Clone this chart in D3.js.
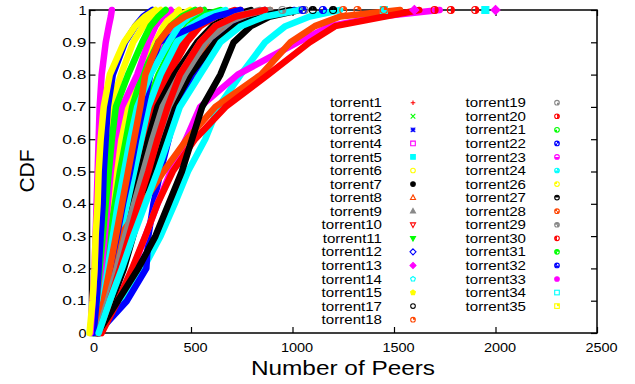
<!DOCTYPE html>
<html>
<head>
<meta charset="utf-8">
<script src="https://cdn.jsdelivr.net/npm/d3@7"></script>
<style>
  body { margin: 0; background: #fff; }
  svg text { font-family: "Liberation Sans", Arial, Helvetica, sans-serif; fill: #000; }
</style>
</head>
<body>
<svg id="chart" width="635" height="384"></svg>
<script>
// ---- data ----
var torrentNames = ["torrent1","torrent2","torrent3","torrent4","torrent5","torrent6","torrent7",
  "torrent8","torrent9","torrent10","torrent11","torrent12","torrent13","torrent14","torrent15",
  "torrent17","torrent18","torrent19","torrent20","torrent21","torrent22","torrent23","torrent24",
  "torrent26","torrent27","torrent28","torrent29","torrent30","torrent31","torrent32","torrent33",
  "torrent34","torrent35"];

// CDF levels at which the number of peers was read
var cdfLevels = [0, 0.1, 0.2, 0.3, 0.4, 0.5, 0.6, 0.7, 0.8, 0.9, 0.95, 0.98, 1];

// number of peers at each level, one row per torrent (same order as torrentNames)
var peerQuantiles = [
  [35,85,125,160,200,240,280,315,390,480,545,620,715],
  [30,60,90,120,145,175,205,240,290,360,420,495,565],
  [50,100,140,185,225,265,305,365,470,560,645,740,865],
  [30,60,85,110,135,160,190,220,280,350,405,470,545],
  [25,160,265,350,420,485,570,635,745,865,965,1085,1235],
  [25,55,80,105,130,155,185,215,265,330,380,435,495],
  [40,85,130,170,210,250,290,335,420,530,605,685,795],
  [45,105,155,200,250,300,350,410,495,595,670,770,890],
  [50,110,155,200,240,300,350,410,535,610,695,795,890],
  [30,70,105,140,175,210,250,290,365,455,535,620,745],
  [35,70,105,135,170,205,240,280,340,420,485,545,645],
  [40,185,280,290,315,350,390,430,505,620,720,850,1010],
  [40,135,215,275,335,400,475,545,730,1025,1185,1430,1725],
  [40,80,115,150,185,220,255,290,350,430,495,570,670],
  [10,45,70,90,110,130,150,180,250,325,365,400,440],
  [50,110,170,215,260,310,360,410,495,620,720,840,990],
  [35,80,115,150,260,365,480,620,845,990,1110,1235,1530],
  [45,100,150,190,235,285,335,390,470,570,645,740,865],
  [60,140,210,275,335,410,520,670,880,1085,1210,1455,1625],
  [20,50,75,100,125,150,180,210,260,340,400,455,520],
  [30,70,100,135,165,200,230,265,300,340,520,620,745],
  [15,45,60,75,90,105,125,160,235,290,325,360,400],
  [30,65,90,115,140,170,200,235,300,390,440,490,545],
  [5,25,40,50,60,70,85,105,155,215,265,310,350],
  [40,140,240,325,390,455,505,555,645,710,795,890,1035],
  [35,70,100,130,160,190,220,250,275,340,400,470,545],
  [40,90,135,175,220,265,310,360,445,545,620,720,840],
  [45,100,150,195,240,290,335,385,445,545,620,720,865],
  [15,35,50,65,80,95,110,130,190,260,300,340,375],
  [20,35,45,55,65,70,80,90,115,175,225,265,310],
  [5,15,25,30,35,40,45,50,60,80,95,105,110],
  [45,100,160,215,275,335,390,445,545,645,745,865,1035],
  [0,15,25,30,40,45,55,70,100,170,225,275,325]
];

// sparse single samples along the top (CDF ~ 1)
var tailSeries = ["torrent5","torrent13","torrent18","torrent19","torrent20","torrent22","torrent27"];
var tailPeers = [[1450,1950],[1600,2000],[1250,1320,1450],[950,1060],[1700,1780,1900],[1050,1150],[1100,1200]];

var xTicks = [0, 500, 1000, 1500, 2000, 2500];
var yTicks = [0, 0.1, 0.2, 0.3, 0.4, 0.5, 0.6, 0.7, 0.8, 0.9, 1];

// ---- drawing ----
var palette = ["#ff0000","#00ff00","#0000ff","#ff00ff","#00ffff","#ffff00","#000000","#ff4500","#888888"];
var svg = d3.select("#chart");

var x = d3.scaleLinear().domain([0, 2500]).range([89.5, 597]);
var y = d3.scaleLinear().domain([0, 1]).range([333, 10]);

// the picture is a bit wider than its fonts, so stretch text sideways
function stretch(sel, k, extra) {
  sel.each(function() {
    var w = this.getComputedTextLength();
    var n = this.textContent.length;
    d3.select(this).attr("textLength", w * k + (extra || 0) * (n - 1))
      .attr("lengthAdjust", "spacingAndGlyphs");
  });
}

// frame
svg.append("rect")
  .attr("x", 89.5).attr("y", 10)
  .attr("width", 597 - 89.5).attr("height", 323)
  .attr("fill", "none").attr("stroke", "#000").attr("stroke-width", 1.5);

var xAxis = svg.append("g").attr("transform", "translate(0,333)")
  .call(d3.axisBottom(x).tickValues(xTicks).tickSizeInner(-6).tickSizeOuter(0).tickPadding(10)
    .tickFormat(d3.format("d")));
var yAxis = svg.append("g").attr("transform", "translate(89.5,0)")
  .call(d3.axisLeft(y).tickValues(yTicks).tickSizeInner(-6).tickSizeOuter(0).tickPadding(3)
    .tickFormat(d3.format(".1~f")));
svg.append("g").attr("transform", "translate(0,10)")
  .call(d3.axisTop(x).tickValues(xTicks).tickSizeInner(-6).tickSizeOuter(0).tickFormat(""));
svg.append("g").attr("transform", "translate(597,0)")
  .call(d3.axisRight(y).tickValues(yTicks).tickSizeInner(-6).tickSizeOuter(0).tickFormat(""));

svg.selectAll(".domain").remove();
svg.selectAll(".tick line").attr("stroke", "#000").attr("stroke-width", 1.2);
svg.selectAll(".tick text").attr("font-size", 12.5).attr("font-family", null);
xAxis.selectAll(".tick text").attr("dx", 4);
stretch(xAxis.selectAll(".tick text"), 1.16);
stretch(yAxis.selectAll(".tick text"), 1.16, 2);

// point symbols in gnuplot order
function symbol(g, pt, cx, cy, color, s) {
  var h = g.append("g").attr("transform", "translate(" + cx + "," + cy + ")");
  var sw = 1.1;
  if (pt <= 3) {
    var p = "";
    if (pt == 1 || pt == 3) p += "M" + (-s) + ",0H" + s + "M0," + (-s) + "V" + s;
    if (pt == 2 || pt == 3) p += "M" + (-s) + "," + (-s) + "L" + s + "," + s + "M" + (-s) + "," + s + "L" + s + "," + (-s);
    h.append("path").attr("d", p).attr("stroke", color).attr("stroke-width", sw).attr("fill", "none");
    return;
  }
  if (pt <= 15) {
    var filled = pt % 2 == 1;
    var kind = Math.floor((pt - 4) / 2);
    var d;
    if (kind == 0) d = "M" + (-s) + "," + (-s) + "H" + s + "V" + s + "H" + (-s) + "Z";
    else if (kind == 1) d = d3.arc()({innerRadius: 0, outerRadius: s, startAngle: 0, endAngle: 2 * Math.PI});
    else if (kind == 2) d = "M0," + (-s * 1.2) + "L" + (s * 1.1) + "," + (s * 0.8) + "H" + (-s * 1.1) + "Z";
    else if (kind == 3) d = "M0," + (s * 1.2) + "L" + (s * 1.1) + "," + (-s * 0.8) + "H" + (-s * 1.1) + "Z";
    else if (kind == 4) d = "M0," + (-s * 1.3) + "L" + (s * 1.3) + ",0L0," + (s * 1.3) + "L" + (-s * 1.3) + ",0Z";
    else {
      var pts = d3.range(5).map(function(i) {
        var a = -Math.PI / 2 + i * 2 * Math.PI / 5;
        return [Math.cos(a) * s * 1.1, Math.sin(a) * s * 1.1];
      });
      d = "M" + pts.join("L") + "Z";
    }
    h.append("path").attr("d", d).attr("stroke", color).attr("stroke-width", sw)
      .attr("fill", filled ? color : "none");
    return;
  }
  // circles (16..31) or squares (32..) with filled quadrants
  var round = pt <= 31;
  var mask = round ? pt - 16 : pt - 32;
  for (var q = 0; q < 4; q++) {
    if (!(mask & (1 << q))) continue;
    if (round) {
      h.append("path").attr("d", d3.arc()({innerRadius: 0, outerRadius: s,
        startAngle: q * Math.PI / 2, endAngle: (q + 1) * Math.PI / 2})).attr("fill", color);
    } else {
      var qx = (q == 0 || q == 1) ? 0 : -s, qy = (q == 0 || q == 3) ? -s : 0;
      h.append("rect").attr("x", qx).attr("y", qy).attr("width", s).attr("height", s).attr("fill", color);
    }
  }
  if (round) h.append("circle").attr("r", s).attr("fill", "none").attr("stroke", color).attr("stroke-width", sw);
  else h.append("rect").attr("x", -s).attr("y", -s).attr("width", 2 * s).attr("height", 2 * s)
    .attr("fill", "none").attr("stroke", color).attr("stroke-width", sw);
}

// curves, drawn as the dense point bands of the original
var line = d3.line().x(function(d) { return x(d[0]); }).y(function(d) { return y(d[1]); });
var curves = svg.append("g").attr("id", "curves");
torrentNames.forEach(function(name, i) {
  var pts = peerQuantiles[i].map(function(v, j) { return [v, cdfLevels[j]]; });
  curves.append("path").datum(pts)
    .attr("d", line)
    .attr("fill", "none")
    .attr("stroke", palette[i % 9])
    .attr("stroke-width", 6.5)
    .attr("stroke-linejoin", "round")
    .attr("stroke-linecap", "round");
});

var tails = svg.append("g").attr("id", "tails");
tailSeries.forEach(function(name, k) {
  var i = torrentNames.indexOf(name);
  tailPeers[k].forEach(function(v) {
    symbol(tails, i + 1, x(v), y(1), palette[i % 9], 3.5);
  });
});

// legend, two columns
var legend = svg.append("g").attr("id", "legend");
var rowH = 13.56, firstRow = 102.7;
torrentNames.forEach(function(name, i) {
  var col = i < 17 ? 0 : 1;
  var row = col == 0 ? i : i - 17;
  var cy = firstRow + row * rowH;
  var tx = col == 0 ? 382 : 526;
  var mx = col == 0 ? 413 : 557;
  legend.append("text")
    .attr("x", tx).attr("y", cy + 4.6)
    .attr("text-anchor", "end")
    .attr("font-size", 13)
    .text(name);
  symbol(legend, i + 1, mx, cy, palette[i % 9], 2.3);
});
stretch(legend.selectAll("text"), 1.16);

// axis titles
var xTitle = svg.append("text")
  .attr("x", 343).attr("y", 375)
  .attr("text-anchor", "middle")
  .attr("font-size", 21)
  .text("Number of Peers");
stretch(xTitle, 1.16);

svg.append("text")
  .attr("transform", "translate(34,171) rotate(-90)")
  .attr("text-anchor", "middle")
  .attr("font-size", 21)
  .text("CDF");
</script>
</body>
</html>
